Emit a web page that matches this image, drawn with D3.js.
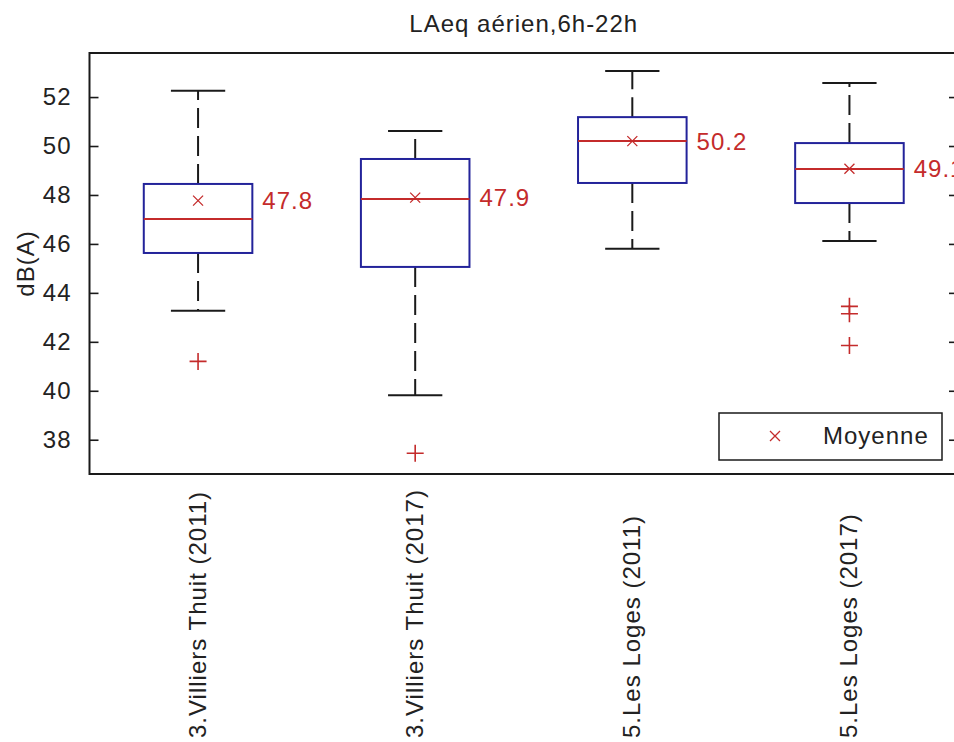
<!DOCTYPE html>
<html lang="fr">

<head>
    <meta charset="UTF-8">
    <script src="https://d3js.org/d3.v7.min.js"></script>
    <title>LAeq aérien</title>
    <style>
        body {
            margin: 0;
            background: #fff;
        }

        svg text {
            font-family: "Liberation Sans", Arial, sans-serif;
            font-size: 24px;
            letter-spacing: 1px;
            fill: #222;
        }
    </style>
</head>

<body>
    <script>
        // values
        var categories = ["3.Villiers Thuit (2011)", "3.Villiers Thuit (2017)", "5.Les Loges (2011)", "5.Les Loges (2017)"]
        var q1 = [45.63, 45.06, 48.49, 47.67]
        var medians = [47.02, 47.84, 50.2, 49.06]
        var q3 = [48.45, 49.47, 51.18, 50.12]
        var whiskerLow = [43.27, 39.82, 45.8, 46.12]
        var whiskerHigh = [52.26, 50.61, 53.06, 52.57]
        var means = [47.77, 47.89, 50.2, 49.07]
        var outliers = [[41.2], [37.45], [], [43.45, 43.15, 41.85]]
        var yTicks = [38, 40, 42, 44, 46, 48, 50, 52]
        var title = "LAeq aérien,6h-22h"
        var yLabel = "dB(A)"
        var legendLabel = "Moyenne"

        var width = 954, height = 742
        var mLeft = 89.5, mRight = 958, mTop = 53, mBottom = 474
        var blue = "#23239a", red = "#c42b2b", black = "#1a1a1a"

        var svg = d3.select("body")
            .append("svg")
            .attr("width", width)
            .attr("height", height)

        var x = d3.scaleLinear().domain([0.5, 4.5]).range([mLeft, mRight])
        var y = d3.scaleLinear().domain([36.6, 53.8]).range([mBottom, mTop])

        var boxes = categories.map(function (c, i) {
            return {
                name: c, pos: i + 1, q1: q1[i], med: medians[i], q3: q3[i],
                lo: whiskerLow[i], hi: whiskerHigh[i], mean: means[i], out: outliers[i]
            }
        })

        // frame + ticks (inside, both sides)
        var yAxisL = d3.axisLeft(y).tickValues(yTicks).tickSize(-9).tickPadding(18)
        svg.append("g").attr("transform", "translate(" + mLeft + ",0)").call(yAxisL)
            .call(function (g) {
                g.select(".domain").remove()
                g.attr("font-family", null).attr("font-size", null)
                g.selectAll("line").attr("stroke", black).attr("stroke-width", 1.6)
            })
        var yAxisR = d3.axisRight(y).tickValues(yTicks).tickSize(-9).tickFormat("")
        svg.append("g").attr("transform", "translate(" + mRight + ",0)").call(yAxisR)
            .call(function (g) {
                g.select(".domain").remove()
                g.selectAll("line").attr("stroke", black).attr("stroke-width", 1.6)
            })

        svg.append("rect")
            .attr("x", mLeft).attr("y", mTop)
            .attr("width", mRight - mLeft).attr("height", mBottom - mTop)
            .attr("fill", "none").attr("stroke", black).attr("stroke-width", 2)

        var g = svg.selectAll("g.box").data(boxes).join("g").attr("class", "box")

        // whiskers
        g.append("line")
            .attr("x1", function (d) { return x(d.pos) }).attr("x2", function (d) { return x(d.pos) })
            .attr("y1", function (d) { return y(d.q3) }).attr("y2", function (d) { return y(d.hi) })
            .attr("stroke", black).attr("stroke-width", 2).attr("stroke-dasharray", "20,8")
        g.append("line")
            .attr("x1", function (d) { return x(d.pos) }).attr("x2", function (d) { return x(d.pos) })
            .attr("y1", function (d) { return y(d.q1) }).attr("y2", function (d) { return y(d.lo) })
            .attr("stroke", black).attr("stroke-width", 2).attr("stroke-dasharray", "20,8")
        // caps
        g.selectAll("line.cap").data(function (d) { return [[d.pos, d.hi], [d.pos, d.lo]] })
            .join("line").attr("class", "cap")
            .attr("x1", function (d) { return x(d[0] - 0.125) }).attr("x2", function (d) { return x(d[0] + 0.125) })
            .attr("y1", function (d) { return y(d[1]) }).attr("y2", function (d) { return y(d[1]) })
            .attr("stroke", black).attr("stroke-width", 2)

        // boxes
        g.append("rect")
            .attr("x", function (d) { return x(d.pos - 0.25) })
            .attr("width", function (d) { return x(d.pos + 0.25) - x(d.pos - 0.25) })
            .attr("y", function (d) { return y(d.q3) })
            .attr("height", function (d) { return y(d.q1) - y(d.q3) })
            .attr("fill", "#fff").attr("stroke", blue).attr("stroke-width", 2)
        // medians
        g.append("line")
            .attr("x1", function (d) { return x(d.pos - 0.25) }).attr("x2", function (d) { return x(d.pos + 0.25) })
            .attr("y1", function (d) { return y(d.med) }).attr("y2", function (d) { return y(d.med) })
            .attr("stroke", red).attr("stroke-width", 2)

        // outliers
        g.selectAll("path.out").data(function (d) { return d.out.map(function (v) { return [d.pos, v] }) })
            .join("path").attr("class", "out")
            .attr("d", "M-8.5,0H8.5M0,-8.5V8.5")
            .attr("transform", function (d) { return "translate(" + x(d[0]) + "," + y(d[1]) + ")" })
            .attr("stroke", red).attr("stroke-width", 1.6).attr("fill", "none")

        // means
        var cross = "M-5,-5L5,5M-5,5L5,-5"
        g.append("path")
            .attr("d", cross)
            .attr("transform", function (d) { return "translate(" + x(d.pos) + "," + y(d.mean) + ")" })
            .attr("stroke", red).attr("stroke-width", 1.3).attr("fill", "none")
        g.append("text")
            .attr("x", function (d) { return x(d.pos + 0.25) + 10 })
            .attr("y", function (d) { return y(d.mean) })
            .attr("dy", "0.35em")
            .style("fill", red)
            .text(function (d) { return d3.format(".1f")(d.mean) })

        // category labels, rotated, anchored at the bottom
        svg.selectAll("text.cat").data(boxes).join("text").attr("class", "cat")
            .attr("transform", function (d) { return "translate(" + (x(d.pos) + 8) + ",738) rotate(-90)" })
            .text(function (d) { return d.name })

        // title and y label
        svg.append("text")
            .attr("x", (mLeft + mRight) / 2).attr("y", 32)
            .attr("text-anchor", "middle")
            .text(title)
        svg.append("text")
            .attr("transform", "translate(34," + ((mTop + mBottom) / 2) + ") rotate(-90)")
            .attr("text-anchor", "middle")
            .text(yLabel)

        // legend
        var lg = svg.append("g").attr("transform", "translate(719,413)")
        lg.append("rect").attr("width", 223).attr("height", 47)
            .attr("fill", "#fff").attr("stroke", black).attr("stroke-width", 1.5)
        lg.append("path").attr("d", cross).attr("transform", "translate(56,23)")
            .attr("stroke", red).attr("stroke-width", 1.3).attr("fill", "none")
        lg.append("text").attr("x", 104).attr("y", 23).attr("dy", "0.35em").text(legendLabel)
    </script>
</body>

</html>
